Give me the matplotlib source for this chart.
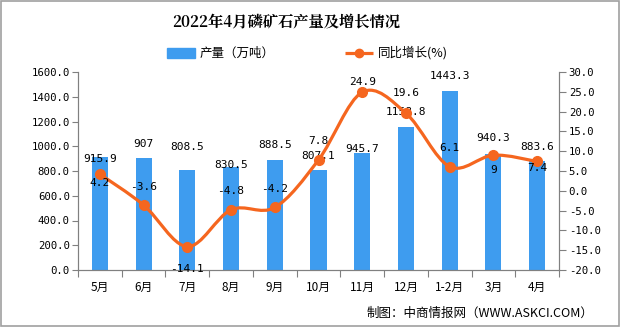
import numpy as np
import matplotlib.pyplot as plt
from matplotlib.path import Path
from matplotlib.patches import PathPatch, Rectangle

# data
months = ["5月", "6月", "7月", "8月", "9月", "10月", "11月", "12月", "1-2月", "3月", "4月"]
output = [915.9, 907, 808.5, 830.5, 888.5, 807.1, 945.7, 1158.8, 1443.3, 940.3, 883.6]
output_text = ["915.9", "907", "808.5", "830.5", "888.5", "807.1", "945.7", "1158.8", "1443.3", "940.3", "883.6"]
growth = [4.2, -3.6, -14.1, -4.8, -4.2, 7.8, 24.9, 19.6, 6.1, 9, 7.4]
growth_text = ["4.2", "-3.6", "-14.1", "-4.8", "-4.2", "7.8", "24.9", "19.6", "6.1", "9", "7.4"]

# label offsets in pixels (style only)
bar_dy = [-2, 14, 23, 2, 15, 14, 4, 15, 15, 16, 14]
line_dy = [-9, 18, -22, 19, 18, 19, 10, 20, 19, -15, -7]

BLUE = "#3E9CEF"
ORANGE = "#F5661F"
GRAY = "#808080"
MONO = ["DejaVu Sans Mono", "Noto Sans CJK SC"]
CJK = ["Noto Sans CJK SC", "DejaVu Sans"]

plt.rcParams['font.family'] = CJK

fig = plt.figure(figsize=(6.2, 3.27), dpi=100)
ax = fig.add_axes([78 / 620, 1 - 270 / 327, 481 / 620, 198 / 327])
ax2 = ax.twinx()

x = np.arange(len(months))
ax.bar(x, output, width=0.37, color=BLUE, zorder=2)
ax.set_xlim(-0.5, len(months) - 0.5)
ax.set_ylim(0, 1600)
ax.set_yticks(np.arange(0, 1601, 200))
ax.set_yticklabels([f"{v:.1f}" for v in np.arange(0, 1601, 200)], family=MONO, fontsize=7.7)

# category ticks at boundaries, labels at centres
ax.set_xticks(np.arange(-0.5, len(months), 1))
ax.set_xticklabels([])
ax.set_xticks(x, minor=True)
ax.set_xticklabels(months, minor=True, fontsize=8.5)
ax.tick_params(axis='x', which='minor', length=0, pad=8)
ax.tick_params(axis='x', which='major', length=5, color=GRAY)
ax.tick_params(axis='y', length=4, color=GRAY, pad=2)

ax2.set_ylim(-20, 30)
ax2.set_yticks(np.arange(-20, 31, 5))
ax2.set_yticklabels([f"{v:.1f}" for v in np.arange(-20, 31, 5)], family=MONO, fontsize=7.7)
ax2.tick_params(axis='y', length=5, color=GRAY, pad=2)

for a in (ax, ax2):
    a.spines['top'].set_visible(False)
    for s in ('left', 'right', 'bottom'):
        a.spines[s].set_color(GRAY)

# smooth growth line as Bezier path (Catmull-Rom control points)
pts = np.column_stack([x, growth]).astype(float)
n = len(pts)
verts = [pts[0]]
codes = [Path.MOVETO]
for i in range(n - 1):
    p0 = pts[i - 1] if i > 0 else pts[i]
    p1 = pts[i]
    p2 = pts[i + 1]
    p3 = pts[i + 2] if i + 2 < n else pts[i + 1]
    verts += [p1 + (p2 - p0) / 6, p2 - (p3 - p1) / 6, p2]
    codes += [Path.CURVE4] * 3
ax2.add_patch(PathPatch(Path(verts, codes), fill=False, edgecolor=ORANGE, lw=2.3,
                        capstyle='round', joinstyle='round', zorder=3))
ax2.plot(x, growth, 'o', color=ORANGE, ms=7, zorder=4)

for i in range(len(months)):
    ax.annotate(output_text[i], (x[i], output[i]), xytext=(0, bar_dy[i] * 0.72),
                textcoords='offset points', ha='center', va='center',
                family=MONO, fontsize=8, zorder=5)
    ax2.annotate(growth_text[i], (x[i], growth[i]), xytext=(0, line_dy[i] * 0.72),
                 textcoords='offset points', ha='center', va='center',
                 family=MONO, fontsize=8, zorder=5)

fig.text(286 / 620, 1 - 23 / 327, "2022年4月磷矿石产量及增长情况", ha='center', va='center',
         fontsize=11, fontweight='bold', family=["Noto Serif CJK SC", "Noto Sans CJK SC"])

# legend drawn by hand
ly = 1 - 53 / 327
fig.patches.append(Rectangle((167 / 620, ly - 5 / 327), 28 / 620, 10 / 327,
                             transform=fig.transFigure, color=BLUE))
fig.text(200 / 620, ly, "产量（万吨）", va='center', fontsize=9)
fig.lines.append(plt.Line2D([345 / 620, 373 / 620], [ly, ly], transform=fig.transFigure,
                            color=ORANGE, lw=2.3, solid_capstyle='butt'))
fig.lines.append(plt.Line2D([359 / 620], [ly], transform=fig.transFigure,
                            color=ORANGE, marker='o', ms=6))
fig.text(378 / 620, ly, "同比增长(%)", va='center', fontsize=9)

fig.text(593 / 620, 1 - 313 / 327, "制图：中商情报网（WWW.ASKCI.COM）", ha='right', va='center', fontsize=9)

fig.patches.append(Rectangle((0.001, 0.002), 0.997, 0.995, transform=fig.transFigure,
                             fill=False, edgecolor="#A0A0A0", lw=1.2))

fig.savefig("out.png", dpi=100)
